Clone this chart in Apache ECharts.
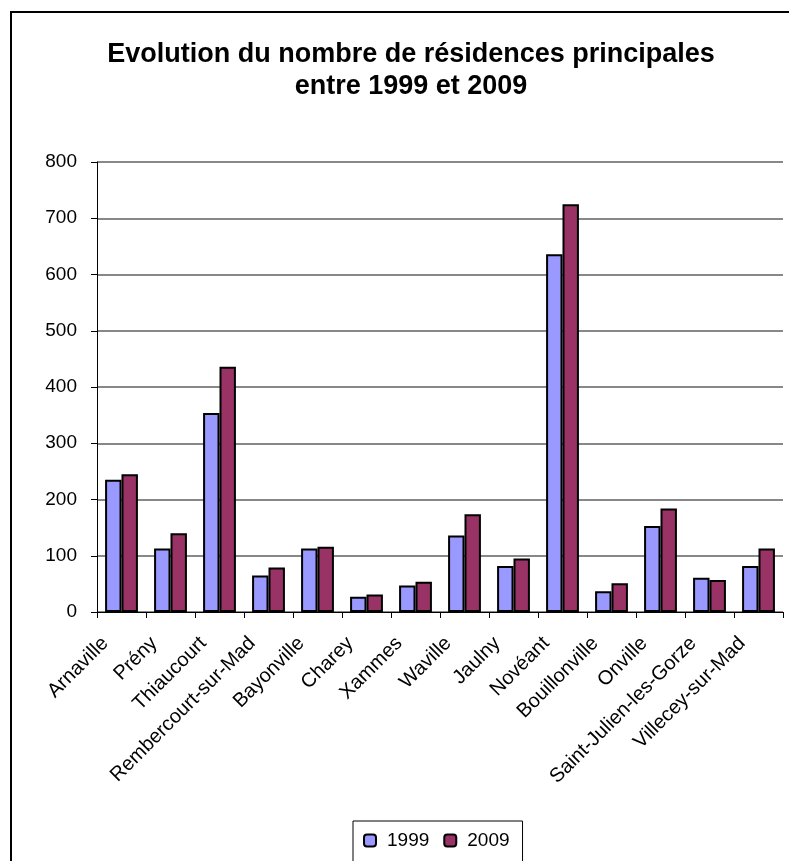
<!DOCTYPE html>
<html>
<head>
<meta charset="utf-8">
<script src="https://cdn.jsdelivr.net/npm/echarts@6/dist/echarts.min.js"></script>
<style>
  html, body { margin: 0; padding: 0; background: #fff; }
  #main { width: 789px; height: 861px; }
</style>
</head>
<body>
<div id="main"></div>
<script>
// communes
var communes = ["Arnaville", "Prény", "Thiaucourt", "Rembercourt-sur-Mad", "Bayonville", "Charey",
  "Xammes", "Waville", "Jaulny", "Novéant", "Bouillonville", "Onville",
  "Saint-Julien-les-Gorze", "Villecey-sur-Mad"];
var val1999 = [235, 113, 354, 65, 113, 27, 47, 136, 82, 636, 37, 153, 61, 82];
var val2009 = [245, 140, 436, 79, 116, 31, 54, 174, 95, 725, 51, 184, 57, 113];
var yTicks = [0, 100, 200, 300, 400, 500, 600, 700, 800];

var font = "'Liberation Sans', Arial, sans-serif";
var myChart = echarts.init(document.getElementById("main"));

myChart.setOption({
  animation: false,
  backgroundColor: "#fff",
  textStyle: { fontFamily: font },
  graphic: [
    {
      type: "rect",
      shape: { x: 11, y: 12, width: 800, height: 900 },
      style: { fill: "none", stroke: "#000", lineWidth: 2 }
    }
  ],
  title: {
    text: "Evolution du nombre de résidences principales\nentre 1999 et 2009",
    left: 406,
    top: 34,
    textAlign: "center",
    textStyle: {
      fontFamily: font,
      fontSize: 27,
      fontWeight: "bold",
      color: "#000",
      lineHeight: 32
    }
  },
  legend: {
    data: ["1999", "2009"],
    left: 353,
    top: 821,
    padding: [10, 13, 40, 10],
    borderColor: "#000",
    borderWidth: 1,
    itemWidth: 12,
    itemHeight: 12,
    itemGap: 14,
    textStyle: { fontFamily: font, fontSize: 19, color: "#000", padding: [0, 0, 0, 6] }
  },
  grid: {
    left: 97,
    right: 6,
    top: 162,
    bottom: 249,
    containLabel: false
  },
  xAxis: {
    type: "category",
    data: communes,
    axisLine: { lineStyle: { color: "#000", width: 1 } },
    axisTick: { show: true, length: 6, lineStyle: { color: "#000" } },
    axisLabel: {
      interval: 0,
      rotate: 45,
      margin: 12,
      padding: [0, 23, 0, 0],
      fontFamily: font,
      fontSize: 20,
      color: "#000"
    }
  },
  yAxis: {
    type: "value",
    min: 0,
    max: 800,
    interval: 100,
    axisLine: { show: true, lineStyle: { color: "#000", width: 1 } },
    axisTick: { show: true, length: 6, lineStyle: { color: "#000" } },
    axisLabel: { fontFamily: font, fontSize: 19, color: "#000", margin: 20 },
    splitLine: { lineStyle: { color: "#888", width: 2 } }
  },
  series: [
    {
      name: "1999",
      type: "bar",
      data: val1999,
      barGap: "0%",
      barCategoryGap: "33%",
      itemStyle: { color: "#9999FF", borderColor: "#000", borderWidth: 2 }
    },
    {
      name: "2009",
      type: "bar",
      data: val2009,
      itemStyle: { color: "#993366", borderColor: "#000", borderWidth: 2 }
    }
  ]
});
</script>
</body>
</html>
